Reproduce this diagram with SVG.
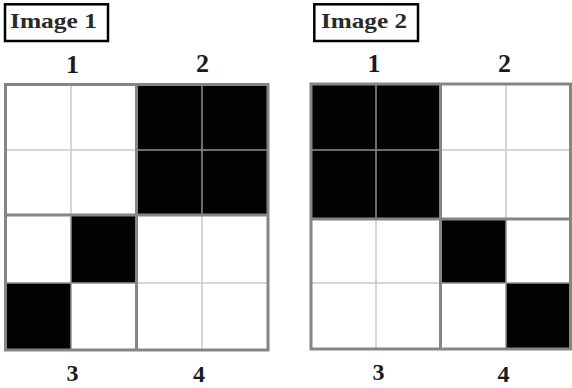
<svg xmlns="http://www.w3.org/2000/svg" width="572" height="388" viewBox="0 0 572 388">
<style>
.title{font-family:"Liberation Serif","DejaVu Serif",serif;font-weight:bold;font-size:22px;fill:#2a2a2a}
.num{font-family:"Liberation Serif","DejaVu Serif",serif;font-weight:bold;font-size:26px;fill:#1a1a1a;text-anchor:middle}
.numb{font-size:24px}
.box{fill:#fff;stroke:#000;stroke-width:2.5}
.blk{fill:#030303}
.cell{stroke:#c8c8c8;stroke-width:1.5;fill:none}
.cellk{stroke:#909090;stroke-width:1.5;fill:none}
.quad{stroke:#858585;stroke-width:3;fill:none}
</style>
<rect width="572" height="388" fill="#fff"/>
<g id="image1">
  <g id="label1">
    <rect class="box" x="5" y="4.3" width="103" height="36.7"/>
    <text class="title" x="10" y="28" textLength="87" lengthAdjust="spacingAndGlyphs">Image 1</text>
  </g>
  <text class="num" x="72.5" y="73">1</text>
  <text class="num" x="202.5" y="72">2</text>
  <text class="num numb" x="72.5" y="381">3</text>
  <text class="num numb" x="199" y="382">4</text>
  <rect x="5.5" y="84.5" width="262.5" height="265.5" fill="#fff"/>
  <rect class="blk" x="136.5" y="84.5" width="131.5" height="130.5"/>
  <rect class="blk" x="71" y="215" width="65.5" height="68"/>
  <rect class="blk" x="5.5" y="283" width="65.5" height="67"/>
  <line class="cell" x1="71" y1="84.5" x2="71" y2="215"/>
  <line class="cell" x1="5.5" y1="150" x2="136.5" y2="150"/>
  <line class="cellk" x1="202" y1="84.5" x2="202" y2="215"/>
  <line class="cellk" x1="136.5" y1="150" x2="268" y2="150"/>
  <line class="cellk" x1="71" y1="215" x2="71" y2="350"/>
  <line class="cellk" x1="5.5" y1="283" x2="136.5" y2="283"/>
  <line class="cell" x1="202" y1="215" x2="202" y2="350"/>
  <line class="cell" x1="136.5" y1="283" x2="268" y2="283"/>
  <rect class="quad" x="5.5" y="84.5" width="262.5" height="265.5"/>
  <line class="quad" x1="136.5" y1="84.5" x2="136.5" y2="350"/>
  <line class="quad" x1="5.5" y1="215" x2="268" y2="215"/>
</g>
<g id="image2">
  <g id="label2">
    <rect class="box" x="314.3" y="4.3" width="103.7" height="36.7"/>
    <text class="title" x="321" y="28" textLength="86" lengthAdjust="spacingAndGlyphs">Image 2</text>
  </g>
  <text class="num" x="374" y="72">1</text>
  <text class="num" x="504.5" y="72">2</text>
  <text class="num numb" x="378.5" y="380">3</text>
  <text class="num numb" x="503.5" y="382">4</text>
  <rect x="311" y="84" width="260" height="265" fill="#fff"/>
  <rect class="blk" x="311" y="84" width="129.5" height="135"/>
  <rect class="blk" x="440.5" y="219" width="65.5" height="64"/>
  <rect class="blk" x="506" y="283" width="65" height="66"/>
  <line class="cellk" x1="376" y1="84" x2="376" y2="219"/>
  <line class="cellk" x1="311" y1="150" x2="440.5" y2="150"/>
  <line class="cell" x1="506" y1="84" x2="506" y2="219"/>
  <line class="cell" x1="440.5" y1="150" x2="571" y2="150"/>
  <line class="cell" x1="376" y1="219" x2="376" y2="349"/>
  <line class="cell" x1="311" y1="283" x2="440.5" y2="283"/>
  <line class="cellk" x1="506" y1="219" x2="506" y2="349"/>
  <line class="cellk" x1="440.5" y1="283" x2="571" y2="283"/>
  <rect class="quad" x="311" y="84" width="259.5" height="265"/>
  <line class="quad" x1="440.5" y1="84" x2="440.5" y2="349"/>
  <line class="quad" x1="311" y1="219" x2="570.5" y2="219"/>
</g>
</svg>
